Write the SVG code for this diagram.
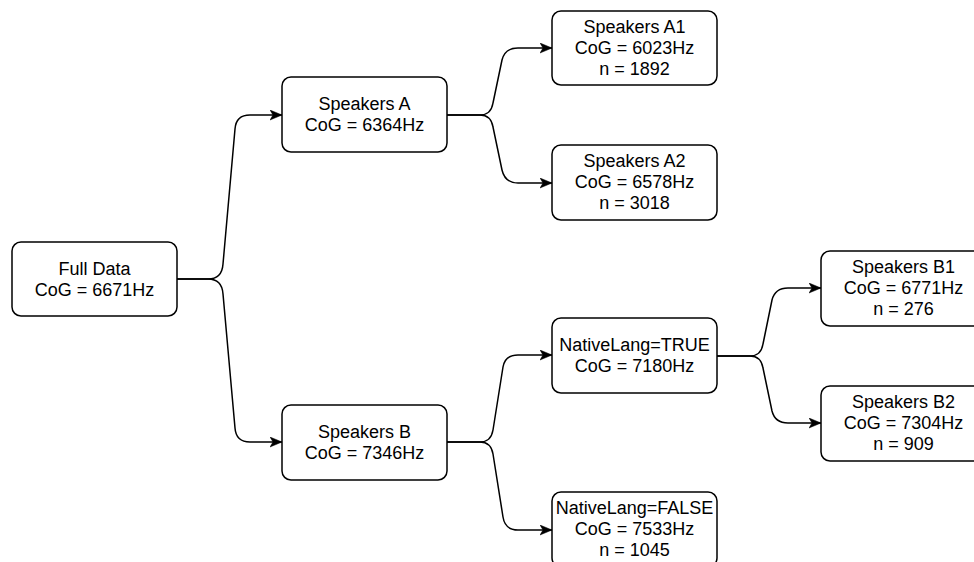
<svg xmlns="http://www.w3.org/2000/svg" width="974" height="562" viewBox="0 0 974 562">
<style>
  .box { fill: #ffffff; stroke: #000000; stroke-width: 1.5; }
  .lbl { font-family: "Liberation Sans", Arial, Helvetica, sans-serif; font-size: 18px; fill: #000000; text-anchor: middle; }
  .edge { fill: none; stroke: #000000; stroke-width: 1.5; marker-end: url(#arrow); }
</style>
<defs>
  <marker id="arrow" markerUnits="userSpaceOnUse" markerWidth="13" markerHeight="11" refX="12" refY="5.5" orient="auto">
    <path d="M0,0.5 L12,5.5 L0,10.5 L3,5.5 Z" fill="#000000" stroke="#000000" stroke-width="0.5"/>
  </marker>
</defs>
<rect width="974" height="562" fill="#ffffff"/>
<g id="connectors">
  <path class="edge" d="M177,279 L208,279 Q222,279 223,264 L235,129 Q236,115 250,115 L282,115"/>
  <path class="edge" d="M177,279 L208,279 Q222,279 223,294 L235,428 Q236,442 250,442 L282,442"/>
  <path class="edge" d="M447,115 L480,115 Q491,115 493,103 L502,60 Q505,48 518,48 L552,48"/>
  <path class="edge" d="M447,115 L480,115 Q491,115 493,127 L502,170 Q505,183 518,183 L552,183"/>
  <path class="edge" d="M447,442 L480,442 Q491,442 493,430 L503,367 Q505,355 518,355 L552,355"/>
  <path class="edge" d="M447,442 L480,442 Q491,442 493,454 L503,517 Q505,530 518,530 L552,530"/>
  <path class="edge" d="M717,356 L750,356 Q761,356 763,344 L772,300 Q775,288 788,288 L821,288"/>
  <path class="edge" d="M717,356 L750,356 Q761,356 763,368 L772,411 Q775,423 788,423 L821,423"/>
</g>
<g id="full-data">
  <rect class="box" x="12" y="242" width="165" height="74" rx="9"/>
  <text class="lbl" x="94.5" y="274.5">Full Data</text>
  <text class="lbl" x="94.5" y="295.5">CoG = 6671Hz</text>
</g>
<g id="speakers-a">
  <rect class="box" x="282" y="77" width="165" height="75" rx="9"/>
  <text class="lbl" x="364.5" y="110">Speakers A</text>
  <text class="lbl" x="364.5" y="131">CoG = 6364Hz</text>
</g>
<g id="speakers-b">
  <rect class="box" x="282" y="405" width="165" height="75" rx="9"/>
  <text class="lbl" x="364.5" y="438">Speakers B</text>
  <text class="lbl" x="364.5" y="459">CoG = 7346Hz</text>
</g>
<g id="speakers-a1">
  <rect class="box" x="552" y="11" width="165" height="74" rx="9"/>
  <text class="lbl" x="634.5" y="32.5">Speakers A1</text>
  <text class="lbl" x="634.5" y="53.5">CoG = 6023Hz</text>
  <text class="lbl" x="634.5" y="74.5">n = 1892</text>
</g>
<g id="speakers-a2">
  <rect class="box" x="552" y="145" width="165" height="75" rx="9"/>
  <text class="lbl" x="634.5" y="167">Speakers A2</text>
  <text class="lbl" x="634.5" y="188">CoG = 6578Hz</text>
  <text class="lbl" x="634.5" y="209">n = 3018</text>
</g>
<g id="native-true">
  <rect class="box" x="552" y="318" width="165" height="75" rx="9"/>
  <text class="lbl" x="634.5" y="351">NativeLang=TRUE</text>
  <text class="lbl" x="634.5" y="372">CoG = 7180Hz</text>
</g>
<g id="native-false">
  <rect class="box" x="552" y="492" width="165" height="75" rx="9"/>
  <text class="lbl" x="634.5" y="514">NativeLang=FALSE</text>
  <text class="lbl" x="634.5" y="535">CoG = 7533Hz</text>
  <text class="lbl" x="634.5" y="556">n = 1045</text>
</g>
<g id="speakers-b1">
  <rect class="box" x="821" y="251" width="165" height="75" rx="9"/>
  <text class="lbl" x="903.5" y="273">Speakers B1</text>
  <text class="lbl" x="903.5" y="294">CoG = 6771Hz</text>
  <text class="lbl" x="903.5" y="315">n = 276</text>
</g>
<g id="speakers-b2">
  <rect class="box" x="821" y="386" width="165" height="75" rx="9"/>
  <text class="lbl" x="903.5" y="408">Speakers B2</text>
  <text class="lbl" x="903.5" y="429">CoG = 7304Hz</text>
  <text class="lbl" x="903.5" y="450">n = 909</text>
</g>
</svg>
